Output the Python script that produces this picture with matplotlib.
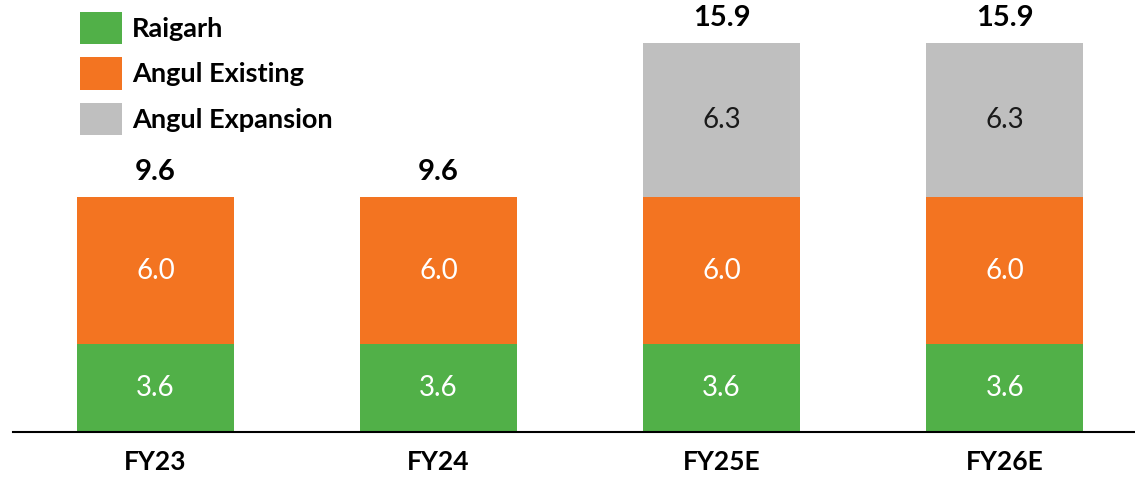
import matplotlib
matplotlib.use("Agg")
import matplotlib.pyplot as plt
from matplotlib.patches import Patch
import numpy as np

categories = ["FY23", "FY24", "FY25E", "FY26E"]
raigarh = [3.6, 3.6, 3.6, 3.6]
angul_existing = [6.0, 6.0, 6.0, 6.0]
angul_expansion = [0.0, 0.0, 6.3, 6.3]
totals = ["9.6", "9.6", "15.9", "15.9"]
series_names = ["Raigarh", "Angul Existing", "Angul Expansion"]
colors = ["#51B048", "#F37421", "#BFBFBF"]
label_colors = ["white", "white", "#1a1a1a"]

plt.rcParams['font.family'] = ['Lato', 'DejaVu Sans']

fig = plt.figure(figsize=(11.35, 4.78), dpi=100)
ax = fig.add_axes([13/1135, (478-432)/478, 1 - 13/1135, 432/478])

x = np.arange(len(categories))
w = 0.555
bottom = np.zeros(len(categories))
for vals, col, lc in zip([raigarh, angul_existing, angul_expansion], colors, label_colors):
    vals = np.array(vals)
    ax.bar(x, vals, w, bottom=bottom, color=col, edgecolor='none')
    for xi, v, b in zip(x, vals, bottom):
        if v > 0:
            ax.text(xi, b + v / 2, f"{v:.1f}", ha='center', va='center',
                    color=lc, fontsize=20)
    bottom = bottom + vals

for xi, b, t in zip(x, bottom, totals):
    ax.text(xi, b + 0.5, t, ha='center', va='bottom', color='black',
            fontsize=21, fontweight='bold')

ax.set_xlim(-0.503, 3.46)
ax.set_ylim(0, 17.67)
ax.set_yticks([])
ax.set_xticks(x)
ax.set_xticklabels(categories, fontsize=19, fontweight='bold')
ax.tick_params(axis='x', length=0, pad=13)
for s in ['top', 'right', 'left']:
    ax.spines[s].set_visible(False)
ax.spines['bottom'].set_linewidth(1.5)
ax.patch.set_alpha(0)

handles = [Patch(facecolor=c, edgecolor='none') for c in colors]
leg = fig.legend(handles, series_names, loc='upper left',
                 bbox_to_anchor=(77/1135, 1 - 9/478), frameon=False,
                 prop={'size': 19.5, 'weight': 'bold'},
                 handlelength=1.55, handleheight=1.45, handletextpad=0.37,
                 labelspacing=0.5, borderaxespad=0, borderpad=0.1)

fig.savefig("out.png", dpi=100)
